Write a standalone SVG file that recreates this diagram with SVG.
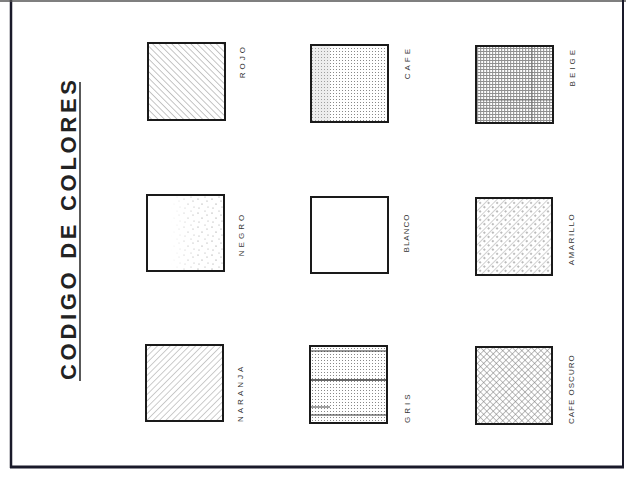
<svg xmlns="http://www.w3.org/2000/svg" width="626" height="479" viewBox="0 0 626 479">
<style>
.sq{stroke:#1a1a1a;stroke-width:2}
.lbl{font-family:"Liberation Sans",Arial,sans-serif;font-size:8px;fill:#333;letter-spacing:3px}
.title{font-family:"Liberation Sans",Arial,sans-serif;font-size:22px;font-weight:bold;fill:#222}
</style>
<defs>
<pattern id="diagBack" width="4.5" height="4.5" patternUnits="userSpaceOnUse" patternTransform="rotate(-45)">
<line x1="0" y1="0" x2="0" y2="4.5" stroke="#8a8a8a" stroke-width="1"/>
</pattern>
<pattern id="diagFwd" width="4.5" height="4.5" patternUnits="userSpaceOnUse" patternTransform="rotate(45)">
<line x1="0" y1="0" x2="0" y2="4.5" stroke="#9a9a9a" stroke-width="1"/>
</pattern>
<pattern id="diagFwdDots" width="6" height="6" patternUnits="userSpaceOnUse" patternTransform="rotate(45)">
<line x1="0" y1="0" x2="0" y2="6" stroke="#999" stroke-width="0.9"/>
<circle cx="3" cy="2" r="0.8" fill="#666"/>
</pattern>
<pattern id="cross" width="4.5" height="4.5" patternUnits="userSpaceOnUse" patternTransform="rotate(45)">
<line x1="0" y1="0" x2="0" y2="4.5" stroke="#7a7a7a" stroke-width="1"/>
<line x1="0" y1="0" x2="4.5" y2="0" stroke="#7a7a7a" stroke-width="1"/>
</pattern>
<pattern id="dotgrid" width="3" height="3" patternUnits="userSpaceOnUse">
<rect x="0" y="0" width="1" height="1" fill="#888"/>
</pattern>
<pattern id="dotgridDense" width="3" height="3" patternUnits="userSpaceOnUse">
<rect x="0" y="0" width="1.2" height="3" fill="#a0a0a0"/>
<rect x="0" y="0" width="3" height="1" fill="#909090"/>
</pattern>
<pattern id="stipple" width="14" height="14" patternUnits="userSpaceOnUse">
<circle cx="2" cy="3" r="0.6" fill="#777"/>
<circle cx="9" cy="1" r="0.5" fill="#888"/>
<circle cx="6" cy="8" r="0.6" fill="#777"/>
<circle cx="12" cy="11" r="0.5" fill="#888"/>
<circle cx="3" cy="12" r="0.5" fill="#777"/>
<circle cx="11" cy="5" r="0.6" fill="#888"/>
</pattern>
<linearGradient id="fadeR" x1="0" y1="0" x2="1" y2="0">
<stop offset="0" stop-color="#fff" stop-opacity="1"/>
<stop offset="0.3" stop-color="#fff" stop-opacity="1"/>
<stop offset="0.6" stop-color="#fff" stop-opacity="0.2"/>
<stop offset="1" stop-color="#fff" stop-opacity="0"/>
</linearGradient>
</defs>

<rect width="626" height="479" fill="#fff"/>
<g id="frame" fill="none" stroke="#1a1a2a">
<line x1="11" y1="0" x2="11" y2="468" stroke-width="2.5"/>
<line x1="0" y1="1" x2="626" y2="1" stroke-width="1.5" stroke="#555"/>
<line x1="623" y1="0" x2="623" y2="468" stroke-width="2"/>
<line x1="10" y1="467" x2="624" y2="467" stroke-width="3"/>
</g>

<g id="title">
<text class="title" transform="translate(76,380) rotate(-90)" textLength="300" lengthAdjust="spacing">CODIGO DE COLORES</text>
<line x1="80" y1="82" x2="80" y2="381" stroke="#222" stroke-width="1.5"/>
</g>

<g id="rojo">
<rect class="sq" x="148" y="43" width="77" height="77" fill="url(#diagBack)"/>
<text class="lbl" transform="translate(245,44) rotate(-90)" text-anchor="end">ROJO</text>
</g>
<g id="cafe">
<rect class="sq" x="311" y="45" width="77" height="77" fill="url(#dotgrid)"/>
<rect x="312" y="46" width="18" height="75" fill="#ccc" opacity="0.35"/>
<text class="lbl" transform="translate(410,46) rotate(-90)" text-anchor="end">CAFE</text>
</g>
<g id="beige">
<rect class="sq" x="476" y="46" width="77" height="77" fill="url(#dotgridDense)"/>
<line x1="532" y1="47" x2="532" y2="122" stroke="#666" stroke-width="0.8"/>
<line x1="477" y1="100" x2="552" y2="100" stroke="#666" stroke-width="0.8"/>
<line x1="477" y1="108" x2="552" y2="108" stroke="#888" stroke-width="0.6"/>
<text class="lbl" transform="translate(575,47) rotate(-90)" text-anchor="end">BEIGE</text>
</g>

<g id="negro">
<rect class="sq" x="147" y="195" width="77" height="76" fill="url(#stipple)"/>
<rect x="148" y="196" width="75" height="74" fill="url(#fadeR)"/>
<text class="lbl" transform="translate(244,234) rotate(-90)" text-anchor="middle">NEGRO</text>
</g>
<g id="blanco">
<rect class="sq" x="311" y="197" width="77" height="76" fill="#fff"/>
<text class="lbl" transform="translate(409,233) rotate(-90)" text-anchor="middle" style="letter-spacing:1px">BLANCO</text>
</g>
<g id="amarillo">
<rect class="sq" x="476" y="198" width="76" height="77" fill="url(#diagFwdDots)"/>
<text class="lbl" transform="translate(574,239) rotate(-90)" text-anchor="middle" style="letter-spacing:1.5px">AMARILLO</text>
</g>

<g id="naranja">
<rect class="sq" x="146" y="345" width="77" height="76" fill="url(#diagFwd)"/>
<text class="lbl" transform="translate(243,422) rotate(-90)">NARANJA</text>
</g>
<g id="gris">
<rect class="sq" x="310" y="346" width="77" height="77" fill="url(#dotgrid)"/>
<line x1="311" y1="351" x2="386" y2="351" stroke="#333" stroke-width="1.2"/>
<line x1="311" y1="380" x2="386" y2="380" stroke="#333" stroke-width="1.5"/>
<line x1="311" y1="407" x2="330" y2="407" stroke="#444" stroke-width="1"/>
<line x1="311" y1="415" x2="386" y2="415" stroke="#333" stroke-width="1.2"/>
<text class="lbl" transform="translate(410,423) rotate(-90)">GRIS</text>
</g>
<g id="cafe-oscuro">
<rect class="sq" x="476" y="347" width="76" height="77" fill="url(#cross)"/>
<text class="lbl" transform="translate(574,424) rotate(-90)" style="letter-spacing:1px">CAFE OSCURO</text>
</g>
</svg>
